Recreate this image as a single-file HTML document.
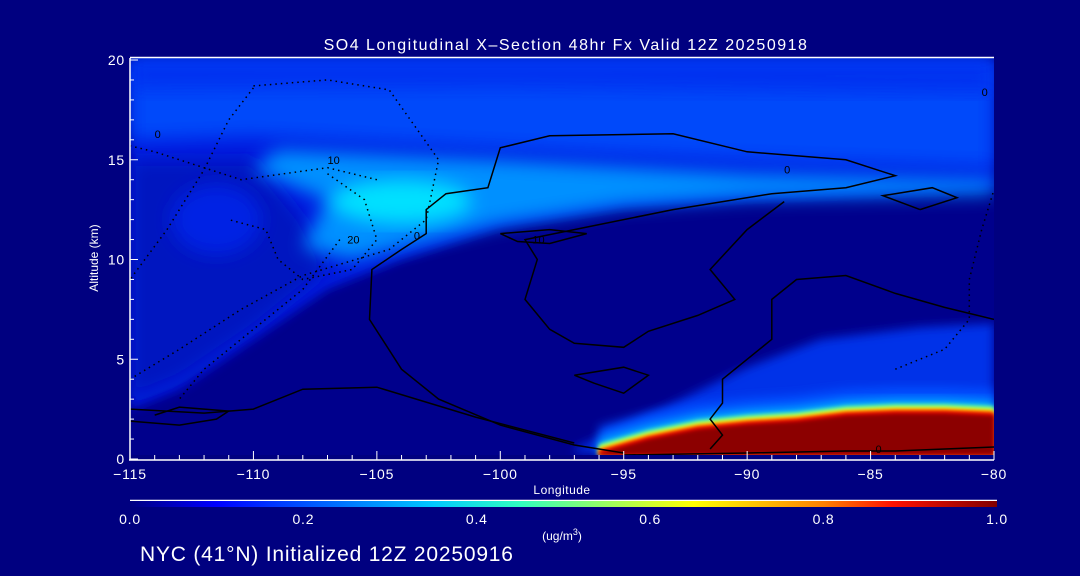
<!DOCTYPE html>
<html><head><meta charset="utf-8"><style>
html,body{margin:0;padding:0;background:#000080;width:1080px;height:576px;overflow:hidden}
svg{display:block;font-family:"Liberation Sans",sans-serif}
</style></head><body>
<svg id="chart" width="1080" height="576" viewBox="0 0 1080 576" xmlns="http://www.w3.org/2000/svg">
<defs>
<filter id="bl" x="-10%" y="-10%" width="120%" height="120%"><feGaussianBlur stdDeviation="5"/></filter>
<filter id="bw" x="-20%" y="-20%" width="140%" height="140%"><feGaussianBlur stdDeviation="9"/></filter>
<filter id="bs" x="-10%" y="-10%" width="120%" height="120%"><feGaussianBlur stdDeviation="2"/></filter>
<clipPath id="pc"><rect x="130" y="58" width="864" height="397"/></clipPath>
<linearGradient id="cb" x1="0" x2="1" y1="0" y2="0">
<stop offset="0" stop-color="#000080"/><stop offset="0.1" stop-color="#0000ff"/><stop offset="0.35" stop-color="#00c8ff"/><stop offset="0.45" stop-color="#30ffc0"/><stop offset="0.6" stop-color="#d0ff30"/><stop offset="0.65" stop-color="#ffff00"/><stop offset="0.8" stop-color="#ff8000"/><stop offset="0.88" stop-color="#ff1000"/><stop offset="1" stop-color="#800000"/>
</linearGradient>
</defs>
<rect width="1080" height="576" fill="#000080"/>
<text x="566" y="50" fill="#fff" font-size="16" letter-spacing="1.5" text-anchor="middle">SO4 Longitudinal X–Section 48hr  Fx Valid 12Z 20250918</text>
<g id="field" clip-path="url(#pc)"></g>
<g id="contours" clip-path="url(#pc)"></g>
<g id="axes"></g>
<text x="98" y="258" fill="#fff" font-size="12" text-anchor="middle" transform="rotate(-90 98 258)">Altitude (km)</text>
<text x="562" y="494" fill="#fff" font-size="12" letter-spacing="0.5" text-anchor="middle">Longitude</text>
<line x1="130" y1="500.5" x2="997" y2="500.5" stroke="#fff" stroke-width="1.5"/>
<rect x="130" y="501" width="867" height="6" fill="url(#cb)"/>
<g id="cbl"></g>
<text x="562" y="540" fill="#fff" font-size="12" text-anchor="middle">(ug/m<tspan dy="-5" font-size="9">3</tspan><tspan dy="5">)</tspan></text>
<text x="140" y="561" fill="#fff" font-size="21" letter-spacing="0.8">NYC (41°N) Initialized 12Z 20250916</text>
</svg>
<script>
const xTicks=[-115,-110,-105,-100,-95,-90,-85,-80];
const yTicks=[0,5,10,15,20];
const cbTicks=[0.0,0.2,0.4,0.6,0.8,1.0];
const bandMid=[[-115,20],[-80,20],[-80,13.5],[-90,13],[-95,12.6],[-100,11.6],[-104,10],[-107,8.5],[-110,6],[-113,3.5],[-115,2.5]];
const bandTop=[[-115,20],[-80,20],[-80,14.6],[-90,15],[-100,15.6],[-110,16.2],[-115,16]];
const bandTop2=[[-115,20],[-80,20],[-80,18.3],[-100,18.6],[-115,18.5]];
const bandLight=[[-109,15.5],[-100,15],[-90,14.3],[-80,14],[-80,13.3],[-90,13.1],[-95,12.7],[-100,11.8],[-104,10.6],[-106,10],[-108,10.6],[-107,13],[-110,14.5]];
const leftDark=[[-115,15],[-110,15],[-108,12],[-107,9.5],[-110,6.5],[-113,4],[-115,3]];
const lowBlue=[[-97,0.5],[-93,2.8],[-90,4.6],[-87,6],[-83,6.6],[-80,6.8],[-80,1],[-97,0.3]];
const layerTop=[-96,-94,-92,-90,-88,-86,-84,-82,-80];
const layerAlt=[0.3,1.0,1.5,1.75,1.9,2.2,2.3,2.3,2.2];
const c0main=[[-95,0.3],[-97,0.7],[-100,1.7],[-102.5,3],[-104,4.5],[-105.3,7],[-105.2,9.5],[-104,10.5],[-103,11.3],[-103,12.5],[-102.2,13.3],[-100.5,13.6],[-100,15.6],[-98,16.2],[-93,16.3],[-90,15.4],[-86,15],[-84,14.2],[-86,13.6],[-89,13.3],[-93,12.5],[-97,11.5],[-99,11],[-98.5,10],[-99,8],[-98,6.5],[-97,5.8],[-95,5.6],[-94,6.4],[-92,7.2],[-90.5,8],[-91.5,9.5],[-90,11.5],[-88.5,12.9]];
const c0b=[[-80,7],[-82,7.6],[-84,8.3],[-86,9.2],[-88,9],[-89,8],[-89,6],[-90,5],[-91,4],[-91,2.8],[-91.5,2],[-91,1.2],[-91.5,0.5]];
const c0c=[[-95,0.2],[-90,0.3],[-86,0.4],[-84,0.4],[-80,0.6]];
const c0left=[[-115,2.5],[-112,2.3],[-110,2.5],[-108,3.5],[-105,3.6],[-101,2.1],[-97,0.8]];
const c0left2=[[-115,1.9],[-113,1.7],[-111.5,2.0],[-111,2.4],[-113,2.6],[-114,2.2]];
const c10=[[-100,11.3],[-98,11.5],[-96.5,11.3],[-98,10.8],[-99.3,10.9],[-100,11.3]];
const c0bx=[[-97,4.2],[-95,4.6],[-94,4.2],[-95,3.3],[-96.2,3.8],[-97,4.2]];
const cRight=[[-83,12.5],[-81.5,13.1],[-82.5,13.6],[-84.5,13.2],[-83,12.5]];
const dotA=[[-110,18.7],[-107,19],[-104.5,18.5],[-102.5,15],[-103,12],[-104.5,10.5],[-108,9.2],[-110.5,7.5],[-113,5.5],[-115,4]];
const dotB=[[-110,18.6],[-111,17],[-112,14.5],[-113.5,11.5],[-115,9]];
const dotC=[[-105,14],[-107,14.6],[-110.5,14],[-114,15.4],[-115,15.7]];
const dotD=[[-107,14.3],[-105.5,13],[-105,11],[-106,9.5],[-108,9],[-109,10],[-109.5,11.5],[-111,12]];
const dotE=[[-106.5,11],[-108,8.5],[-110,6.5],[-112,4.5],[-113,3]];
const dotF=[[-84,4.5],[-82,5.5],[-81,7],[-81,9],[-80.5,11.5],[-80,13.5]];

const X=l=>130+(l+115)*24.686, Y=a=>459-a*19.95;
const NS="http://www.w3.org/2000/svg";
const field=document.getElementById('field'),cont=document.getElementById('contours'),axes=document.getElementById('axes');
function pts(a){return a.map(p=>X(p[0]).toFixed(1)+','+Y(p[1]).toFixed(1)).join(' ');}
function poly(parent,arr,fill,filt,name){const e=document.createElementNS(NS,'polygon');e.setAttribute('points',pts(arr));e.setAttribute('fill',fill);if(filt)e.setAttribute('filter',filt);


parent.appendChild(e);}
function line(arr,dash,name,w){const e=document.createElementNS(NS,'polyline');e.setAttribute('points',pts(arr));e.setAttribute('fill','none');e.setAttribute('stroke','#000');e.setAttribute('stroke-width',w||1.5);if(dash)e.setAttribute('stroke-dasharray',dash);


cont.appendChild(e);}
const bg=document.createElementNS(NS,'rect');bg.setAttribute('x',130);bg.setAttribute('y',58);bg.setAttribute('width',864);bg.setAttribute('height',397);bg.setAttribute('fill','#00008c');


field.appendChild(bg);
poly(field,bandMid,'#001ce0','url(#bl)','mid-blue-region');
poly(field,leftDark,'#0014c0','url(#bw)','left-dark-region');
poly(field,bandTop,'#0048fa','url(#bw)','upper-band');
poly(field,bandTop2,'#0030f0','url(#bw)','top-band');
poly(field,bandLight,'#0090ff','url(#bw)','light-band');
const el=document.createElementNS(NS,'ellipse');el.setAttribute('cx',X(-104));el.setAttribute('cy',Y(12.9));el.setAttribute('rx',70);el.setAttribute('ry',22);el.setAttribute('fill','#00e0ff');el.setAttribute('filter','url(#bw)');


field.appendChild(el);
const el2=document.createElementNS(NS,'ellipse');el2.setAttribute('cx',X(-111.5));el2.setAttribute('cy',Y(12));el2.setAttribute('rx',45);el2.setAttribute('ry',35);el2.setAttribute('fill','#0024e4');el2.setAttribute('filter','url(#bw)');


field.appendChild(el2);
poly(field,lowBlue,'#0030e8','url(#bl)','lower-right-blue');
const rims=[[1.3,'#0050ff'],[0.7,'#00b0ff'],[0.45,'#60ffa0'],[0.3,'#ffff00'],[0.18,'#ff6000'],[0.08,'#ff0000'],[0,'#8c0000']];
rims.forEach((r,i)=>{const arr=layerTop.map((l,j)=>[l,layerAlt[j]+r[0]]);arr.push([-80,0.2],[-96,0.2]);
poly(field,arr,r[1],i<2?'url(#bl)':'url(#bs)','surface-layer-'+i);});
line(c0main,null,'contour-0-main');line(c0b,null,'contour-0-east');line(c0c,null,'contour-0-surface');
line(c0left,null,'contour-0-west');line(c0left2,null,'contour-0-west-loop');line(c10,null,'contour-10-loop');line(c0bx,null,'contour-0-box');line(cRight,null,'contour-0-right');
[dotA,dotB,dotC,dotD,dotE,dotF].forEach((d,i)=>line(d,'1.5 4','dotted-contour-'+i,1.5));
[['0',-103.5,11.2],['10',-107,15],['20',-106.2,11],['0',-88.5,14.5],['10',-98.7,11],['0',-84.8,0.5],['0',-114,16.3],['0',-80.5,18.4]].forEach((l,i)=>{const t=document.createElementNS(NS,'text');t.setAttribute('x',X(l[1]));t.setAttribute('y',Y(l[2])+4);t.setAttribute('font-size','11');t.setAttribute('fill','#000');t.textContent=l[0];


cont.appendChild(t);});
function aln(x1,y1,x2,y2,w,name){const e=document.createElementNS(NS,'line');e.setAttribute('x1',x1);e.setAttribute('y1',y1);e.setAttribute('x2',x2);e.setAttribute('y2',y2);e.setAttribute('stroke','#fff');e.setAttribute('stroke-width',w||1.5);


axes.appendChild(e);}
aln(129,460,994,460,1.5,'x-axis-line');aln(130,58,130,460,1.5,'y-axis-line');aln(130,57.5,994,57.5,1.5,'top-axis-line');
for(let l=-115;l<=-80;l++){const x=X(l);aln(x,460,x,xTicks.includes(l)?451:455,1,'x-tick');}
for(let a=0;a<=20;a++){const y=Y(a);aln(130,y,yTicks.includes(a)?138:134,y,1,'y-tick');}
function txt(g,s,x,y,anchor,name){const t=document.createElementNS(NS,'text');t.setAttribute('x',x);t.setAttribute('y',y);t.setAttribute('fill','#fff');t.setAttribute('font-size','14');t.setAttribute('letter-spacing','0.8');t.setAttribute('text-anchor',anchor);t.textContent=s;


g.appendChild(t);}
xTicks.forEach(l=>txt(axes,(l<0?'−':'')+Math.abs(l),X(l),479,'middle','x-tick-label'));
yTicks.forEach(a=>txt(axes,String(a),125,Y(a)+5,'end','y-tick-label'));
const cbl=document.getElementById('cbl');
cbTicks.forEach(v=>txt(cbl,v.toFixed(1),130+v*867,524,'middle','colorbar-tick-label'));
</script>
</body></html>
